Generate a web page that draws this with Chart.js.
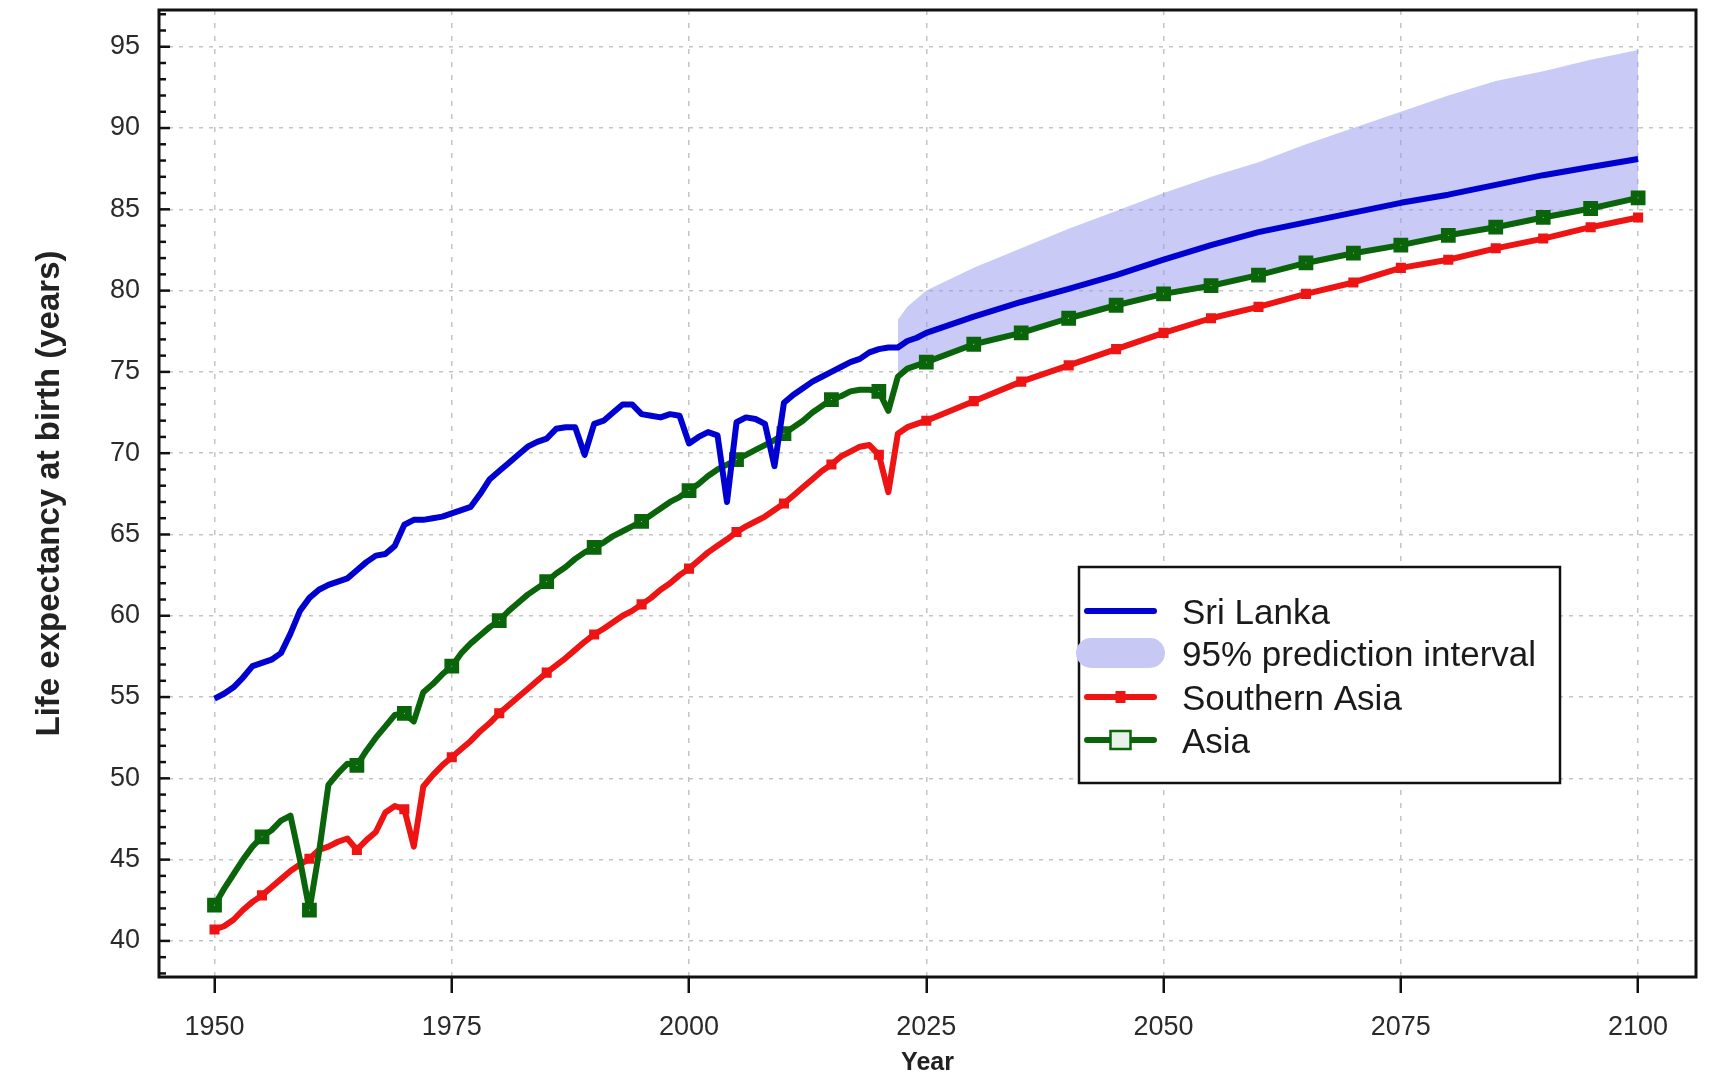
<!DOCTYPE html>
<html>
<head>
<meta charset="utf-8">
<script src="https://cdn.jsdelivr.net/npm/chart.js@4.4.1/dist/chart.umd.min.js"></script>
<style>
html,body{margin:0;padding:0;background:#fff;overflow:hidden}
#wrap{width:1710px;height:1072px;position:relative}
</style>
</head>
<body>
<div id="wrap"><canvas id="c" width="1710" height="1072"></canvas></div>
<script>
// ---------- data ----------
const years = [
  1950,1951,1952,1953,1954,1955,1956,1957,1958,1959,
  1960,1961,1962,1963,1964,1965,1966,1967,1968,1969,
  1970,1971,1972,1973,1974,1975,1976,1977,1978,1979,
  1980,1981,1982,1983,1984,1985,1986,1987,1988,1989,
  1990,1991,1992,1993,1994,1995,1996,1997,1998,1999,
  2000,2001,2002,2003,2004,2005,2006,2007,2008,2009,
  2010,2011,2012,2013,2014,2015,2016,2017,2018,2019,
  2020,2021,2022,2023,2024,2025,
  2030,2035,2040,2045,2050,2055,2060,2065,2070,2075,2080,2085,2090,2095,2100
];
const sriLanka = [
  54.9,55.2,55.6,56.2,56.9,57.1,57.3,57.7,58.9,60.3,
  61.1,61.6,61.9,62.1,62.3,62.8,63.3,63.7,63.8,64.3,
  65.6,65.9,65.9,66.0,66.1,66.3,66.5,66.7,67.5,68.4,
  68.9,69.4,69.9,70.4,70.7,70.9,71.5,71.6,71.6,69.9,
  71.8,72.0,72.5,73.0,73.0,72.4,72.3,72.2,72.4,72.3,
  70.6,71.0,71.3,71.1,67.0,71.9,72.2,72.1,71.8,69.2,
  73.1,73.6,74.0,74.4,74.7,75.0,75.3,75.6,75.8,76.2,
  76.4,76.5,76.5,76.9,77.1,77.4,
  78.4,79.3,80.1,80.95,81.9,82.8,83.6,84.2,84.8,85.4,85.9,86.5,87.1,87.6,88.1
];
const southernAsia = [
  40.7,40.9,41.3,41.9,42.4,42.8,43.3,43.8,44.3,44.7,
  45.05,45.6,45.8,46.1,46.3,45.6,46.2,46.7,47.9,48.3,
  48.1,45.8,49.5,50.2,50.8,51.3,51.8,52.3,52.9,53.4,
  54.0,54.5,55.0,55.5,56.0,56.5,56.95,57.4,57.9,58.4,
  58.85,59.2,59.6,60.0,60.3,60.7,61.1,61.6,62.0,62.5,
  62.9,63.4,63.9,64.3,64.7,65.15,65.5,65.8,66.1,66.5,
  66.9,67.4,67.9,68.4,68.9,69.3,69.8,70.1,70.4,70.5,
  69.9,67.6,71.2,71.6,71.8,72.0,
  73.2,74.4,75.4,76.4,77.4,78.3,79.0,79.8,80.5,81.4,81.9,82.6,83.2,83.9,84.5
];
const asia = [
  42.2,43.2,44.1,45.0,45.8,46.4,46.8,47.4,47.7,45.0,
  41.9,45.4,49.6,50.3,50.9,50.8,51.7,52.5,53.2,53.9,
  54.0,53.5,55.3,55.8,56.4,56.9,57.7,58.3,58.8,59.3,
  59.7,60.3,60.8,61.3,61.7,62.1,62.6,63.0,63.5,63.9,
  64.2,64.5,64.9,65.2,65.5,65.8,66.2,66.6,67.0,67.3,
  67.7,68.1,68.6,69.0,69.3,69.6,69.9,70.2,70.5,70.8,
  71.2,71.6,72.0,72.5,72.9,73.3,73.5,73.8,73.9,73.9,
  73.8,72.6,74.7,75.2,75.4,75.6,
  76.7,77.4,78.3,79.1,79.8,80.3,80.95,81.7,82.3,82.8,83.4,83.9,84.5,85.05,85.7
];
const bandYears = [2022,2023,2025,2030,2035,2040,2045,2050,2055,2060,2065,2070,2075,2080,2085,2090,2095,2100];
const bandUpper = [78.2,79.0,80.0,81.4,82.6,83.8,84.9,86.0,87.0,87.9,89.0,90.0,91.0,92.0,92.9,93.5,94.2,94.8];
const bandLower = [75.0,74.9,74.9,75.0,75.3,75.7,76.1,76.5,77.0,77.4,78.0,78.5,79.0,79.5,80.0,80.4,80.8,81.1];
const xTickValues = [1950,1975,2000,2025,2050,2075,2100];
const yTickValues = [40,45,50,55,60,65,70,75,80,85,90,95];
const seriesLabels = ['Sri Lanka','95% prediction interval','Southern Asia','Asia'];
const axisTitles = {x:'Year', y:'Life expectancy at birth (years)'};
// -----------------------------------------------------------

const BLUE='#0000d0', RED='#ee1414', GREEN='#0a640a', BAND='rgba(150,150,240,0.5)';
const pts = (xs, ys) => xs.map((x,i)=>({x:x, y:ys[i]}));
const markerAt5 = r => ctx => (ctx.raw && ctx.raw.x % 5 === 0 ? r : 0);

const SANS = "'Liberation Sans',Arial,sans-serif";

const frameLegend = {
  id:'frameLegend',
  afterDraw(chart){
    const {ctx, chartArea:a, scales:{y}} = chart;
    ctx.save();
    // inside minor/major ticks on the y axis
    ctx.strokeStyle='#111'; ctx.lineWidth=2.5; ctx.setLineDash([]);
    for(let v=Math.ceil(y.min); v<=Math.floor(y.max); v++){
      const py=y.getPixelForValue(v);
      const len = (v%5===0)?11:7;
      ctx.beginPath(); ctx.moveTo(a.left,py); ctx.lineTo(a.left+len,py); ctx.stroke();
    }
    // frame
    ctx.lineWidth=3;
    ctx.strokeRect(a.left,a.top,a.right-a.left,a.bottom-a.top);

    // legend
    const bx=1079, by=567, bw=481, bh=216;
    ctx.fillStyle='#fff'; ctx.fillRect(bx,by,bw,bh);
    ctx.lineWidth=2.5; ctx.strokeStyle='#111'; ctx.strokeRect(bx,by,bw,bh);
    const ds = chart.data.datasets;
    const rows=[611,653,697,740];
    const x1=1087, x2=1154, xm=(x1+x2)/2;
    ctx.lineCap='round';
    // Sri Lanka
    ctx.strokeStyle=ds[0].borderColor; ctx.lineWidth=6;
    ctx.beginPath(); ctx.moveTo(x1,rows[0]); ctx.lineTo(x2,rows[0]); ctx.stroke();
    // band patch
    ctx.fillStyle='#c8c8f5';
    ctx.beginPath(); ctx.roundRect(1076,rows[1]-15,89,30,15); ctx.fill();
    // Southern Asia
    ctx.strokeStyle=ds[3].borderColor;
    ctx.beginPath(); ctx.moveTo(x1,rows[2]); ctx.lineTo(x2,rows[2]); ctx.stroke();
    ctx.fillStyle=ds[3].borderColor; ctx.fillRect(xm-5,rows[2]-6,10,12);
    // Asia
    ctx.strokeStyle=ds[2].borderColor;
    ctx.beginPath(); ctx.moveTo(x1,rows[3]); ctx.lineTo(x2,rows[3]); ctx.stroke();
    ctx.fillStyle='#e8f2e8'; ctx.fillRect(xm-10,rows[3]-9,20,18);
    ctx.lineWidth=2.5; ctx.lineCap='butt'; ctx.strokeRect(xm-10,rows[3]-9,20,18);
    // texts
    ctx.fillStyle='#1a1a1a'; ctx.font="35px "+SANS; ctx.textBaseline='middle'; ctx.textAlign='left';
    [0,1,2,3].forEach((k,i)=>ctx.fillText(seriesLabels[k],1182,rows[i]+3));
    ctx.restore();
  }
};

const zeroPad = s => { s.paddingTop=0; s.paddingBottom=0; s.paddingLeft=0; s.paddingRight=0; };

new Chart(document.getElementById('c'),{
  type:'line',
  data:{
    datasets:[
      {label:seriesLabels[0], data:pts(years,sriLanka), borderColor:BLUE, borderWidth:6,
       pointRadius:0, tension:0, fill:false, order:1, borderJoinStyle:'round'},
      {label:seriesLabels[1], data:pts(bandYears,bandUpper), borderWidth:0, borderColor:'rgba(0,0,0,0)',
       backgroundColor:BAND, pointRadius:0, fill:'+1', order:10},
      {label:seriesLabels[3], data:pts(years,asia), borderColor:GREEN, borderWidth:6,
       pointStyle:'rect', pointRadius:markerAt5(5.5), pointBorderWidth:7,
       pointBackgroundColor:'#ffffff', pointBorderColor:GREEN, tension:0, fill:false, order:2, borderJoinStyle:'round'},
      {label:seriesLabels[2], data:pts(years,southernAsia), borderColor:RED, borderWidth:6,
       pointStyle:'rect', pointRadius:markerAt5(5), pointBorderWidth:3,
       pointBackgroundColor:RED, pointBorderColor:RED, tension:0, fill:false, order:3, borderJoinStyle:'round'},
      {label:'lower', data:pts(bandYears,bandLower), borderWidth:0, borderColor:'rgba(0,0,0,0)',
       pointRadius:0, fill:false, order:11}
    ]
  },
  options:{
    responsive:false, animation:false, events:[],
    layout:{autoPadding:false, padding:{top:10,right:14,left:0,bottom:0}},
    plugins:{legend:{display:false}, tooltip:{enabled:false}, title:{display:false}},
    scales:{
      x:{type:'linear', min:1944.15, max:2106.1,
        afterBuildTicks:s=>{s.ticks=xTickValues.map(v=>({value:v}));},
        afterFit:s=>{s.height=95; zeroPad(s);},
        grid:{color:'#c4c4c4', lineWidth:1.5, drawTicks:true, tickLength:16,
              tickColor:'#111', tickWidth:2.5, tickBorderDash:[]},
        border:{display:false, dash:[5,8]},
        ticks:{font:{family:SANS,size:27}, color:'#2a2a2a', padding:18, maxRotation:0,
               callback:v=>String(v)},
        title:{display:true, text:axisTitles.x, color:'#222',
               font:{family:SANS,size:25,weight:'bold',lineHeight:1}, padding:{top:0,bottom:-4}}
      },
      y:{type:'linear', min:37.78, max:97.26,
        afterBuildTicks:s=>{s.ticks=yTickValues.map(v=>({value:v}));},
        afterFit:s=>{s.width=159; zeroPad(s);},
        grid:{color:'#c4c4c4', lineWidth:1.5, drawTicks:false},
        border:{display:false, dash:[4,6]},
        ticks:{font:{family:SANS,size:27}, color:'#2a2a2a', padding:19, callback:v=>String(v)},
        title:{display:true, text:axisTitles.y, color:'#222',
               font:{family:SANS,size:33,weight:'bold',lineHeight:1}, padding:{top:33,bottom:0}}
      }
    }
  },
  plugins:[frameLegend]
});
</script>
</body>
</html>
